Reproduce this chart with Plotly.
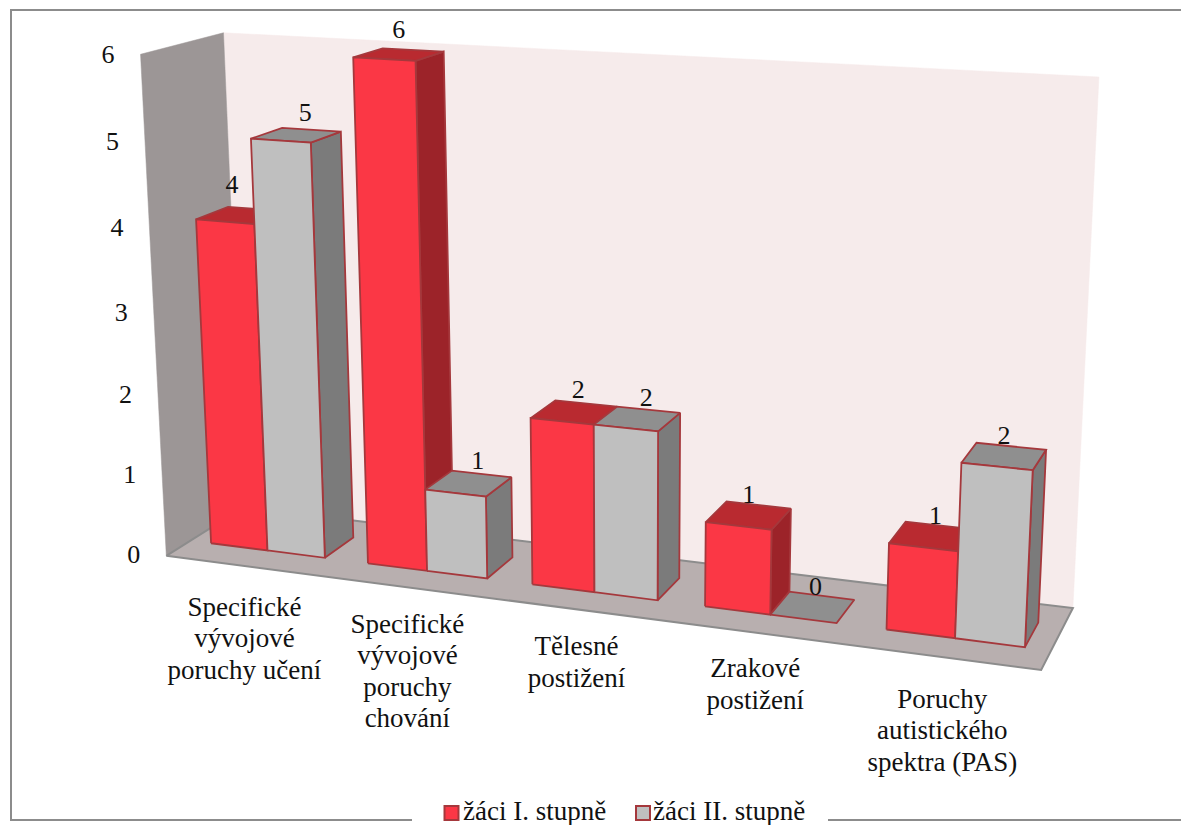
import numpy as np
import plotly.graph_objects as go

# ---- data ----
categories = [
    "Specifické<br>vývojové<br>poruchy učení",
    "Specifické<br>vývojové<br>poruchy<br>chování",
    "Tělesné<br>postižení",
    "Zrakové<br>postižení",
    "Poruchy<br>autistického<br>spektra (PAS)",
]
series_names = ["žáci I. stupně", "žáci II. stupně"]
stupen_1 = [4, 6, 2, 1, 1]
stupen_2 = [5, 1, 2, 0, 2]
value_ticks = [0, 1, 2, 3, 4, 5, 6]

# ---- style ----
FONT = "Liberation Serif"
INK = "#111111"
FRONT = ["#FB3745", "#BFBFBF"]
TOP = ["#B92A30", "#8F8F8F"]
SIDE = ["#9C2329", "#7B7B7B"]
EDGE = "#A5383C"
WALL_BACK = "#F6EBEB"
WALL_LEFT = "#9C9696"
FLOOR = "#B8AFAF"
FRAME = "#8C8C8C"

# ---- oblique view: world (category, depth, value) -> pixel axes ----
anchors = [
    ((0, 0, 0), (166, 556)), ((5, 0, 0), (1041, 670)), ((5, 1, 0), (1073, 608)),
    ((0, 1, 0), (244, 507)), ((0, 0, 6), (141, 54)), ((0, 1, 6), (223, 33)),
    ((5, 1, 6), (1099, 77)),
]
A = []
for (X, Y, Z), (u, v) in anchors:
    u, v = u / 1000, v / 1000
    A.append([X, Y, Z, 1, 0, 0, 0, 0, -u * X, -u * Y, -u * Z, -u])
    A.append([0, 0, 0, 0, X, Y, Z, 1, -v * X, -v * Y, -v * Z, -v])
P = np.linalg.svd(np.array(A, float))[2][-1].reshape(3, 4)


def proj(X, Y, Z):
    h = P @ np.array([X, Y, Z, 1.0])
    return 1000 * h[0] / h[2], 1000 * h[1] / h[2]


BAR_MARGIN = 0.135
D0, D1 = 0.30, 0.70
bar_w = (1 - 2 * BAR_MARGIN) / 2

fig = go.Figure()


def poly(corners, fill, line=None, width=1.5):
    pts = [proj(*c) for c in corners]
    xs = [p[0] for p in pts] + [pts[0][0]]
    ys = [p[1] for p in pts] + [pts[0][1]]
    fig.add_trace(go.Scatter(
        x=xs, y=ys, mode="lines", fill="toself", fillcolor=fill,
        line=dict(color=line or fill, width=width if line else 0.5),
        hoverinfo="skip", showlegend=False))


# walls and floor
poly([(0, 1, 0), (5, 1, 0), (5, 1, 6), (0, 1, 6)], WALL_BACK)
poly([(0, 0, 0), (0, 1, 0), (0, 1, 6), (0, 0, 6)], WALL_LEFT)
poly([(0, 0, 0), (5, 0, 0), (5, 1, 0), (0, 1, 0)], FLOOR, FRAME, 2)

# bars
tops = []
for c in range(len(categories)):
    for s, vals in enumerate((stupen_1, stupen_2)):
        x0 = c + BAR_MARGIN + s * bar_w
        x1 = x0 + bar_w
        v = vals[c]
        if v > 0:
            poly([(x1, D0, 0), (x1, D1, 0), (x1, D1, v), (x1, D0, v)], SIDE[s], EDGE, 1.8)
        poly([(x0, D0, v), (x1, D0, v), (x1, D1, v), (x0, D1, v)], TOP[s], EDGE, 1.8)
        if v > 0:
            poly([(x0, D0, 0), (x1, D0, 0), (x1, D0, v), (x0, D0, v)], FRONT[s], EDGE, 1.8)
        tops.append(((x0 + x1) / 2, v))

# value labels (depth-centred top of each bar, lifted)
nudge_x = [-9, 9, 0, 9, 4, 9, 0, 3, 4, 0]
nudge_y = [-6, 2, 0, 2, 2, 4, 4, 4, 4, 4]
lab = [proj(t[0], (D0 + D1) / 2, t[1]) for t in tops]
fig.add_trace(go.Scatter(
    x=[p[0] + n for p, n in zip(lab, nudge_x)],
    y=[p[1] - 23 + n for p, n in zip(lab, nudge_y)],
    mode="text", text=[str(t[1]) for t in tops],
    textfont=dict(family=FONT, size=26, color=INK),
    hoverinfo="skip", showlegend=False))

# value axis labels
tick_nudge = [1, 1, 2, 3, 2, 2, 2]
tp = [proj(0, 0, z) for z in value_ticks]
fig.add_trace(go.Scatter(
    x=[p[0] - 32.5 for p in tp], y=[p[1] + n for p, n in zip(tp, tick_nudge)], mode="text",
    text=[str(z) for z in value_ticks],
    textfont=dict(family=FONT, size=26, color=INK),
    hoverinfo="skip", showlegend=False))

# category labels, one text per line
cat_nudge_x = [0, 1, 0, 0, -1]
cat_nudge_y = [3, -1, -1, -2, 4]
cx, cy, ct = [], [], []
for i, name in enumerate(categories):
    px, py = proj(i + 0.5, 0, 0)
    for j, line in enumerate(name.split("<br>")):
        cx.append(px + cat_nudge_x[i])
        cy.append(py + 40 + cat_nudge_y[i] + j * 31.5)
        ct.append(line)
fig.add_trace(go.Scatter(
    x=cx, y=cy, mode="text", text=ct,
    textfont=dict(family=FONT, size=27, color=INK),
    hoverinfo="skip", showlegend=False))

# legend entries sitting in a gap of the frame
legend_swatch_x = [451.5, 643]
legend_text_x = [463, 653]
legend_y = 813
fig.add_trace(go.Scatter(
    x=legend_swatch_x, y=[legend_y] * 2, mode="markers",
    marker=dict(symbol="square", size=14, color=FRONT, line=dict(color=EDGE, width=2)),
    hoverinfo="skip", showlegend=False))
fig.add_trace(go.Scatter(
    x=legend_text_x, y=[legend_y] * 2, mode="text", text=series_names,
    textposition="middle right",
    textfont=dict(family=FONT, size=27, color=INK),
    hoverinfo="skip", showlegend=False))

fig.update_layout(
    width=1181, height=825, autosize=False,
    margin=dict(l=0, r=0, t=0, b=0),
    paper_bgcolor="white", plot_bgcolor="white",
    xaxis=dict(range=[0, 1181], visible=False, fixedrange=True),
    yaxis=dict(range=[825, 0], visible=False, fixedrange=True),
    showlegend=False,
    shapes=[
        dict(type="path", path="M 1181 10 L 11 10 L 11 820 L 412 820",
             line=dict(color=FRAME, width=2), xref="x", yref="y", layer="below"),
        dict(type="path", path="M 828 820 L 1181 820",
             line=dict(color=FRAME, width=2), xref="x", yref="y", layer="below"),
    ],
)
fig.write_html("out.html", config={"displayModeBar": False},
               post_script="document.body.style.margin='0';document.documentElement.style.overflow='hidden';")
